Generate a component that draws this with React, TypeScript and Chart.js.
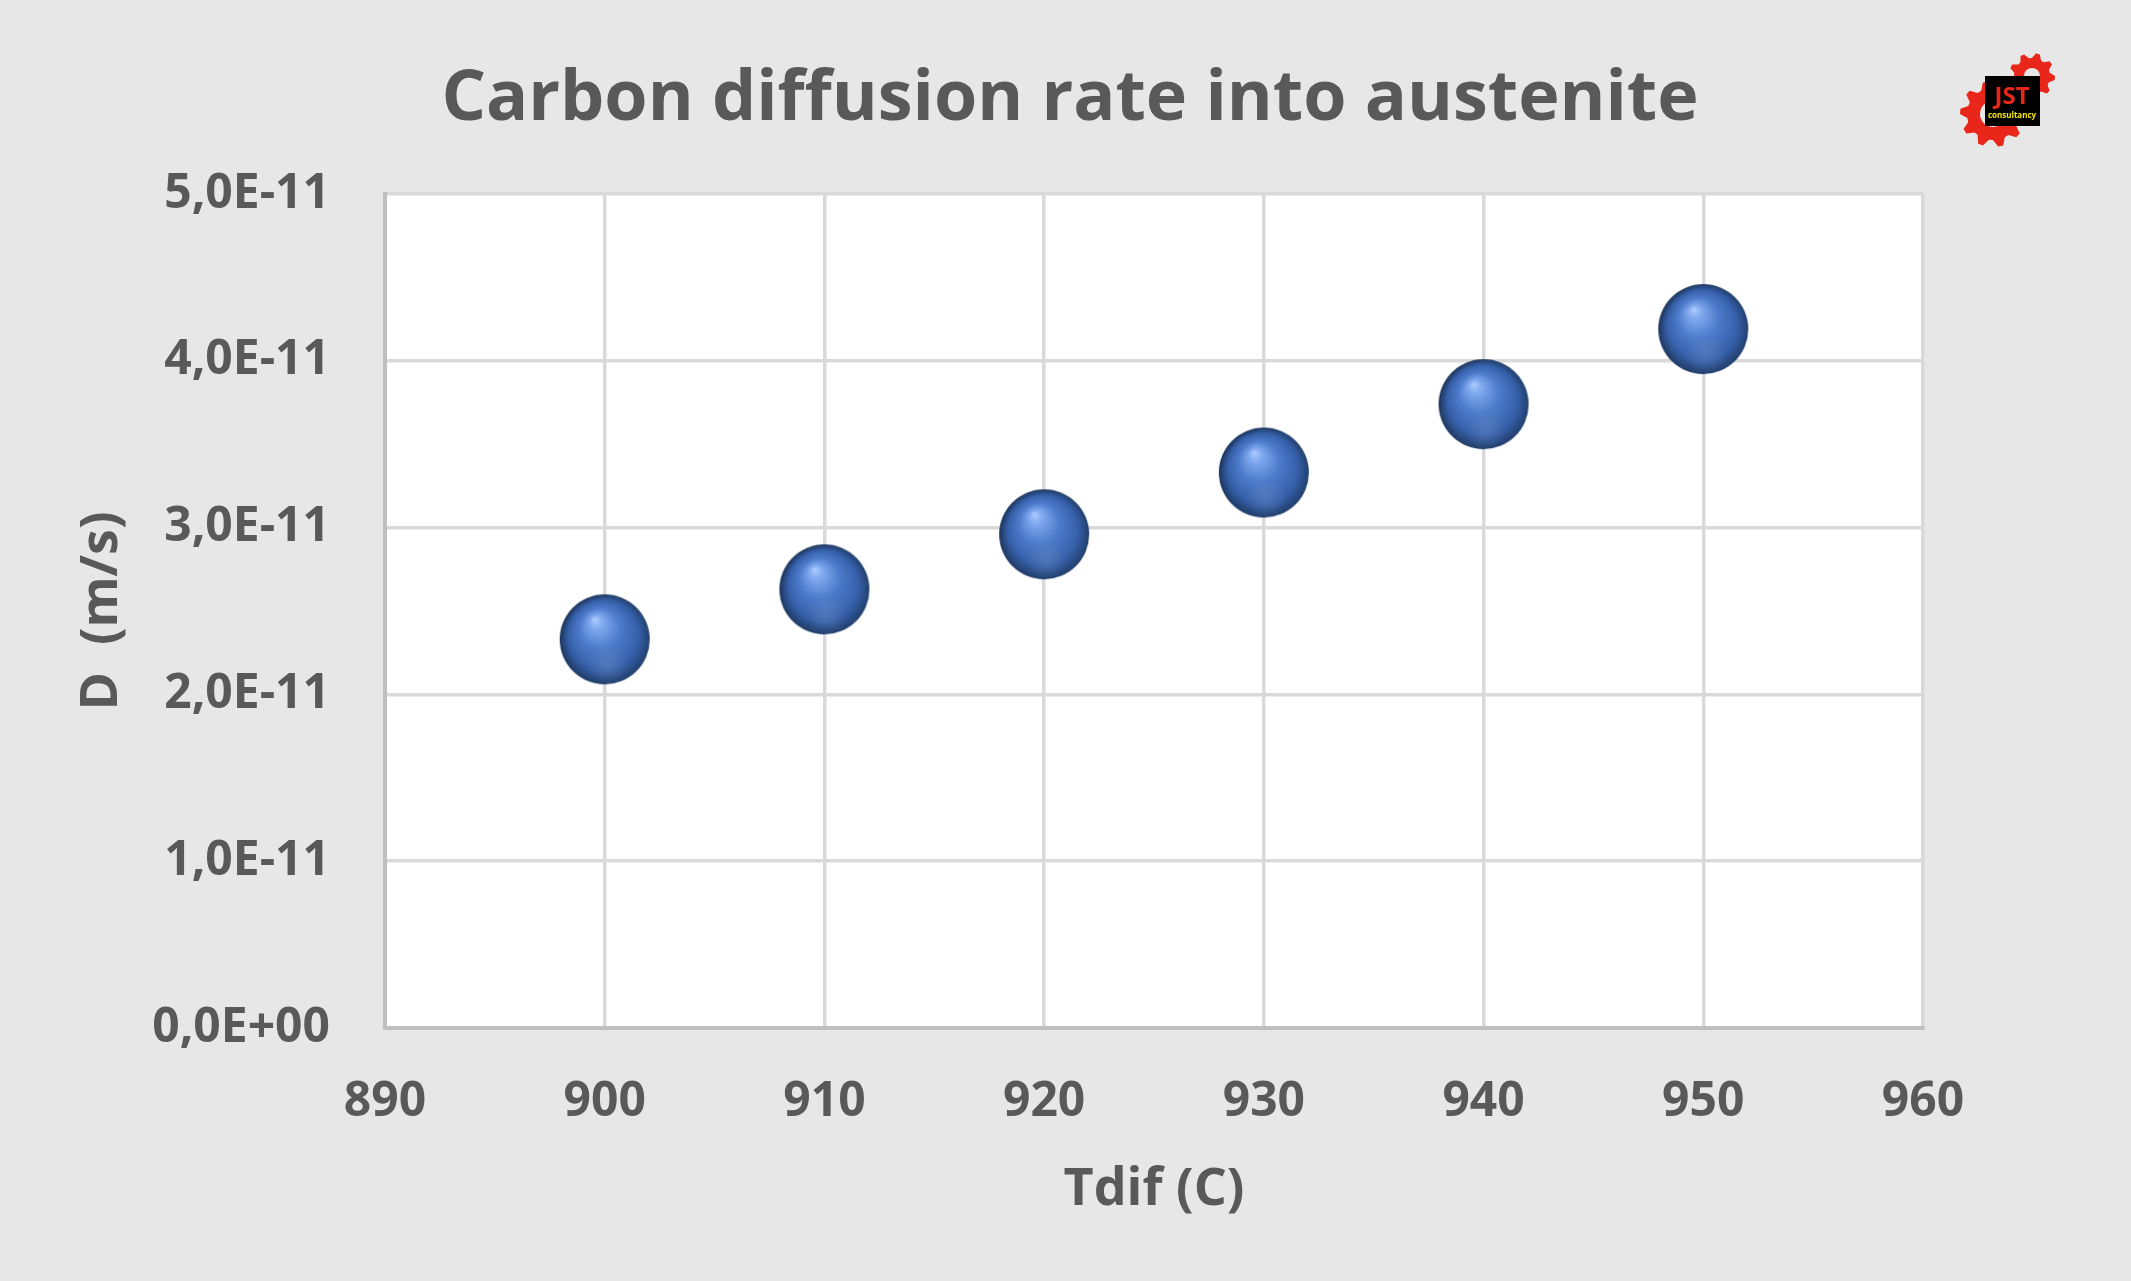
import React, { useEffect, useRef } from "react";
import { Chart, registerables } from "chart.js";

Chart.register(...registerables);

const temperatures = [900, 910, 920, 930, 940, 950];
const diffusionRates = [2.33e-11, 2.63e-11, 2.96e-11, 3.33e-11, 3.74e-11, 4.19e-11];
const chartTitle = "Carbon diffusion rate into austenite";
const xTitle = "Tdif (C)";
const yTitle = "D  (m/s)";
const logoText = "JST";
const logoSub = "consultancy";

const TEXT = "#595959";
const FONT = "'Open Sans', 'DejaVu Sans', sans-serif";

function sci(v: number): string {
  if (Math.abs(v) < 1e-20) return "0,0E+00";
  const [m, e] = v.toExponential(1).split("e");
  const n = parseInt(e, 10);
  const sign = n < 0 ? "-" : "+";
  return m.replace(".", ",") + "E" + sign + String(Math.abs(n)).padStart(2, "0");
}

function makeSphere(r: number): HTMLCanvasElement {
  const c = document.createElement("canvas");
  const size = Math.ceil(r * 2 + 2);
  c.width = size;
  c.height = size;
  const ctx = c.getContext("2d")!;
  const cx = size / 2;
  const cy = size / 2;
  const g = ctx.createRadialGradient(cx - 0.22 * r, cy - 0.45 * r, 0, cx + 0.05 * r, cy + 0.05 * r, r * 1.08);
  g.addColorStop(0, "#b0ceff");
  g.addColorStop(0.14, "#80a9ef");
  g.addColorStop(0.42, "#4d7bcb");
  g.addColorStop(0.72, "#3660aa");
  g.addColorStop(0.9, "#23416f");
  g.addColorStop(1, "#15284a");
  ctx.beginPath();
  ctx.arc(cx, cy, r, 0, Math.PI * 2);
  ctx.fillStyle = g;
  ctx.fill();
  const g2 = ctx.createRadialGradient(cx + 0.05 * r, cy + 0.55 * r, 0, cx + 0.05 * r, cy + 0.55 * r, r * 0.45);
  g2.addColorStop(0, "rgba(120,150,200,0.35)");
  g2.addColorStop(1, "rgba(120,150,200,0)");
  ctx.fillStyle = g2;
  ctx.beginPath();
  ctx.arc(cx, cy, r, 0, Math.PI * 2);
  ctx.fill();
  return c;
}

function gear(ctx: CanvasRenderingContext2D, x: number, y: number, outer: number, body: number, hole: number, teeth: number, bg: string) {
  ctx.save();
  ctx.fillStyle = "#e8261a";
  ctx.beginPath();
  const steps = teeth * 4;
  for (let i = 0; i <= steps; i++) {
    const a = (i / steps) * Math.PI * 2;
    const phase = i % 4;
    const rr = phase === 0 || phase === 1 ? outer : body;
    const px = x + Math.cos(a) * rr;
    const py = y + Math.sin(a) * rr;
    if (i === 0) ctx.moveTo(px, py);
    else ctx.lineTo(px, py);
  }
  ctx.closePath();
  ctx.fill();
  ctx.fillStyle = bg;
  ctx.beginPath();
  ctx.arc(x, y, hole, 0, Math.PI * 2);
  ctx.fill();
  ctx.restore();
}

const decorPlugin = {
  id: "decor",
  beforeDraw(chart: any) {
    const { ctx, chartArea } = chart;
    ctx.save();
    ctx.fillStyle = "#e7e7e7";
    ctx.fillRect(0, 0, chart.width, chart.height);
    ctx.fillStyle = "#ffffff";
    ctx.fillRect(chartArea.left, chartArea.top, chartArea.right - chartArea.left, chartArea.bottom - chartArea.top);
    ctx.restore();
  },
  afterDraw(chart: any) {
    const { ctx } = chart;
    ctx.save();
    ctx.fillStyle = TEXT;
    ctx.font = `bold 70px ${FONT}`;
    ctx.textAlign = "center";
    ctx.textBaseline = "middle";
    ctx.fillText(chartTitle, 1070, 100);
    gear(ctx, 2032, 76, 23, 18, 8, 9, "#e7e7e7");
    gear(ctx, 1993, 114, 33, 26, 13, 10, "#e7e7e7");
    ctx.fillStyle = "#000000";
    ctx.fillRect(1985, 76, 55, 50);
    ctx.fillStyle = "#e8261a";
    ctx.font = `bold 24px 'Liberation Sans Narrow', ${FONT}`;
    ctx.textAlign = "center";
    ctx.textBaseline = "middle";
    ctx.fillText(logoText, 2012, 97);
    ctx.fillStyle = "#f5e600";
    ctx.font = `bold 8px ${FONT}`;
    ctx.fillText(logoSub, 2012, 116);
    ctx.restore();
  },
};

export default function App() {
  const ref = useRef<HTMLCanvasElement | null>(null);
  useEffect(() => {
    document.body.style.margin = "0";
    const sphere = makeSphere(45);
    const chart = new Chart(ref.current!, {
      type: "scatter",
      data: {
        datasets: [
          {
            label: "D",
            data: temperatures.map((t, i) => ({ x: t, y: diffusionRates[i] })),
            pointStyle: sphere as any,
            pointRadius: 45,
            showLine: false,
          },
        ],
      },
      options: {
        animation: false,
        responsive: true,
        maintainAspectRatio: false,
        layout: { padding: { left: 0, top: 194, right: 208, bottom: 0 } },
        plugins: {
          legend: { display: false },
          tooltip: { enabled: false },
          title: { display: false },
        },
        scales: {
          x: {
            type: "linear",
            min: 890,
            max: 960,
            ticks: {
              stepSize: 10,
              color: TEXT,
              font: { family: FONT, size: 48, weight: "bold" },
              padding: 46,
            },
            grid: { color: "#d9d9d9", lineWidth: 3.5, drawTicks: false },
            border: { color: "#bfbfbf", width: 4 },
            title: {
              display: true,
              text: xTitle,
              color: TEXT,
              font: { family: FONT, size: 52, weight: "bold" },
              padding: { top: 0, bottom: 60 },
            },
            afterFit(scale: any) {
              scale.height = 253;
            },
          },
          y: {
            type: "linear",
            min: 0,
            max: 5e-11,
            ticks: {
              stepSize: 1e-11,
              color: TEXT,
              font: { family: FONT, size: 48, weight: "bold" },
              padding: 55,
              callback: (v: any) => sci(Number(v)),
            },
            grid: { color: "#d9d9d9", lineWidth: 3.5, drawTicks: false },
            border: { color: "#bfbfbf", width: 4 },
            title: {
              display: true,
              text: yTitle,
              color: TEXT,
              font: { family: FONT, size: 52, weight: "bold" },
              padding: { top: 71, bottom: 0 },
            },
            afterFit(scale: any) {
              scale.width = 385;
            },
          },
        },
      },
      plugins: [decorPlugin],
    });
    return () => chart.destroy();
  }, []);
  return (
    <div style={{ width: 2131, height: 1281, position: "relative" }}>
      <canvas ref={ref} />
    </div>
  );
}
